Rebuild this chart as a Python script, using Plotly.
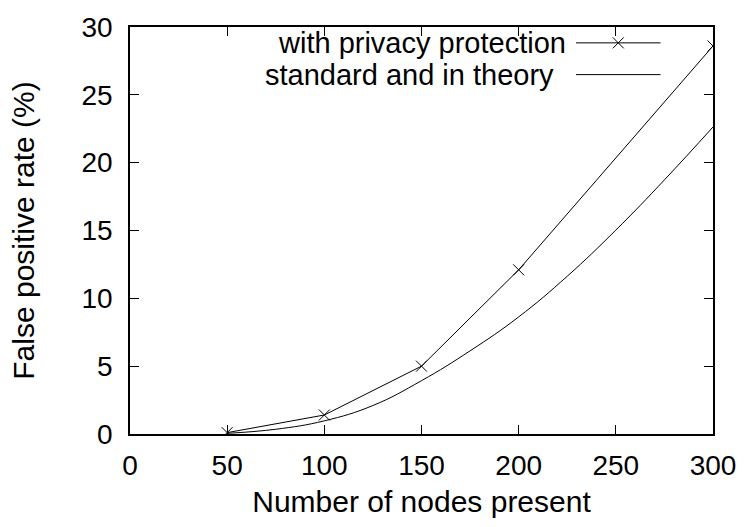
import plotly.graph_objects as go

# Measured false positive rate with privacy protection
nodes_priv = [50, 100, 150, 200, 300]
fpr_priv = [0.1, 1.4, 5.0, 12.1, 28.6]

# Standard (theoretical) false positive rate
nodes_std = [50, 75, 100, 125, 150, 175, 200, 225, 250, 275, 300]
fpr_std = [0.05, 0.35, 0.97, 2.1, 3.93, 6.13, 8.63, 11.63, 15.03, 18.73, 22.63]

x_ticks = [0, 50, 100, 150, 200, 250, 300]
y_ticks = [0, 5, 10, 15, 20, 25, 30]
series_names = ["with privacy protection", "standard and in theory"]

FONT = "Liberation Sans, Arial, Helvetica, sans-serif"
FS_TICK = 28
FS_TITLE = 30
FS_KEY = 29

fig = go.Figure()

fig.add_trace(go.Scatter(
    x=nodes_priv, y=fpr_priv, mode="lines+markers", name=series_names[0],
    line=dict(color="black", width=1),
    marker=dict(symbol="x-thin-open", size=11, color="black",
                line=dict(color="black", width=1)),
    showlegend=False, hoverinfo="skip",
))
fig.add_trace(go.Scatter(
    x=nodes_std, y=fpr_std, mode="lines", name=series_names[1],
    line=dict(color="black", width=1, shape="spline", smoothing=1.2),
    showlegend=False, hoverinfo="skip",
))

# Key entries: text right-aligned, sample to its right
key_rows = [0.961, 0.883]
key_text_x = [0.751, 0.731]
key_line = (0.765, 0.91)
for name, xx, yy in zip(series_names, key_text_x, key_rows):
    fig.add_annotation(
        x=xx, y=yy, xref="paper", yref="paper", text=name,
        showarrow=False, xanchor="right", yanchor="middle",
        font=dict(family=FONT, size=FS_KEY, color="black"),
    )
    fig.add_shape(
        type="line", xref="paper", yref="paper",
        x0=key_line[0], x1=key_line[1], y0=yy, y1=yy,
        line=dict(color="black", width=1),
    )
fig.add_trace(go.Scatter(
    x=[(key_line[0] + key_line[1]) / 2], y=[key_rows[0]],
    xaxis="x2", yaxis="y2", mode="markers",
    marker=dict(symbol="x-thin-open", size=11, color="black",
                line=dict(color="black", width=1)),
    showlegend=False, hoverinfo="skip",
))

axis_common = dict(
    showgrid=False, zeroline=False, showline=True, linecolor="black", linewidth=1.5,
    mirror="ticks", ticks="inside", ticklen=9, tickwidth=1, tickcolor="black",
    tickfont=dict(family=FONT, size=FS_TICK, color="black"),
)

fig.update_layout(
    width=748, height=527,
    margin=dict(l=130, r=30, t=20, b=93),
    paper_bgcolor="white", plot_bgcolor="white",
    font=dict(family=FONT, size=FS_TICK, color="black"),
    xaxis=dict(range=[0, 300], tickvals=x_ticks, ticklabelstandoff=6,
               title=dict(text="Number of nodes present", standoff=11,
                          font=dict(family=FONT, size=FS_TITLE)),
               **axis_common),
    yaxis=dict(range=[0, 30], tickvals=y_ticks, ticklabelstandoff=10,
               title=dict(text="False positive rate (%)", standoff=38,
                          font=dict(family=FONT, size=FS_TITLE)),
               **axis_common),
    xaxis2=dict(range=[0, 1], overlaying="x", visible=False),
    yaxis2=dict(range=[0, 1], overlaying="y", visible=False),
)

fig.write_html("out.html")
